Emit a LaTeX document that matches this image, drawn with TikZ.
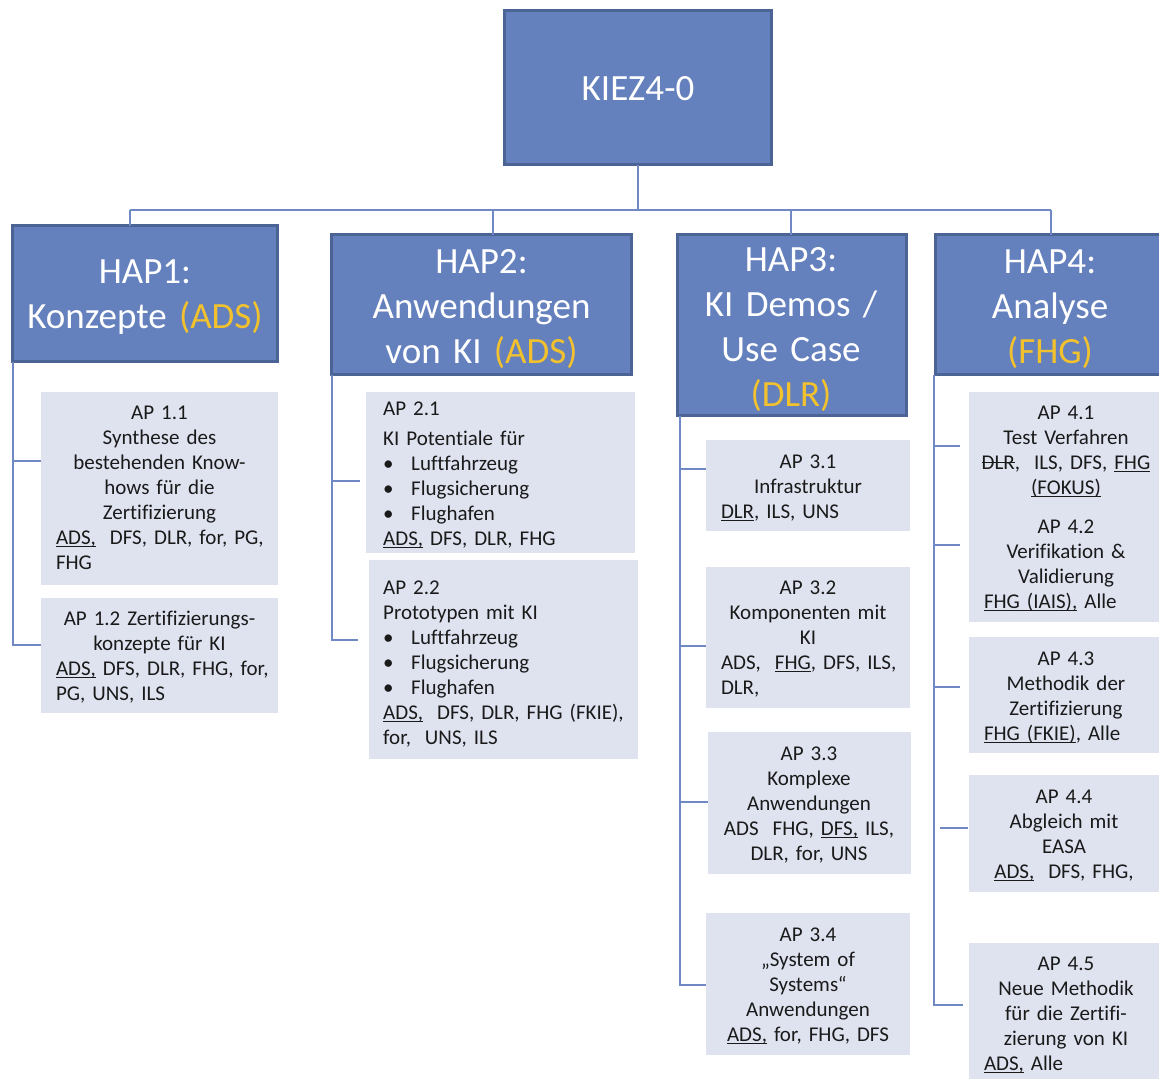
\documentclass[tikz,border=0pt]{standalone}
\usepackage{fontspec}
\setmainfont{Carlito}[Ligatures={TeX,NoCommon}]
\definecolor{hapfill}{HTML}{6480BD}
\definecolor{hapborder}{HTML}{4B6395}
\definecolor{apfill}{HTML}{DFE3F0}
\definecolor{connc}{HTML}{7089C4}
\definecolor{hapyellow}{HTML}{F2C12E}
\definecolor{aptextc}{HTML}{1A1A1A}
\newsavebox\ulbox
\newcommand\ulx[1]{\leavevmode\sbox\ulbox{#1}\rlap{\rule[-3pt]{\wd\ulbox}{1.2pt}}\usebox{\ulbox}}
\newcommand\stx[1]{\leavevmode\sbox\ulbox{#1}\rlap{\rule[6pt]{\wd\ulbox}{1.2pt}}\usebox{\ulbox}}
\newcommand\bul[1]{\leavevmode\makebox[28pt][l]{\textbullet}#1}
\newcommand\lline[1]{\leavevmode\makebox[\linewidth][l]{#1}}
\tikzset{
  hapbox/.style={draw=hapborder, line width=3pt, fill=hapfill, anchor=north west, inner sep=0pt, outer sep=0pt},
  haptext/.style={text=white, font=\fontsize{37}{45}\selectfont, align=center, text width=300pt, anchor=base, inner sep=0pt},
  apbox/.style={fill=apfill, anchor=north west, inner sep=0pt, outer sep=0pt},
  aptext/.style={text=aptextc, font=\fontsize{21}{25}\selectfont, align=center, text width=200pt, anchor=base, inner sep=0pt},
  apleft/.style={aptext, align=left, anchor=base west},
  conn/.style={draw=connc, line width=2pt}
}
\begin{document}
\begin{tikzpicture}[x=1pt,y=-1pt]
\path[use as bounding box] (0,0) rectangle (1159,1079);

% top box
\node[hapbox, minimum width=267pt, minimum height=154pt] (kiez) at (504.5,10.5) {};
\node[haptext] (kiezt) at (638,100) {KIEZ4-0};

% HAP boxes
\node[hapbox, minimum width=265pt, minimum height=136pt] (hap1) at (12.5,225.5) {};
\node[hapbox, minimum width=300pt, minimum height=140pt] (hap2) at (331.5,234.5) {};
\node[hapbox, minimum width=229pt, minimum height=181pt] (hap3) at (677.5,234.5) {};
\node[hapbox, minimum width=226pt, minimum height=140pt] (hap4) at (935.5,234.5) {};

\node[haptext] (hap1t) at (145,283) {HAP1:\\Konzepte \textcolor{hapyellow}{(ADS)}};
\node[haptext] (hap2t) at (481.5,273) {HAP2:\\Anwendungen\\von KI \textcolor{hapyellow}{(ADS)}};
\node[haptext] (hap3t) at (791,271) {HAP3:\\KI Demos /\\Use Case\\\textcolor{hapyellow}{(DLR)}};
\node[haptext] (hap4t) at (1050,273) {HAP4:\\Analyse\\\textcolor{hapyellow}{(FHG)}};

% AP boxes
\node[apbox, minimum width=237pt, minimum height=193pt] (ap11) at (41,392) {};
\node[apbox, minimum width=237pt, minimum height=115pt] (ap12) at (41,598) {};
\node[apbox, minimum width=269pt, minimum height=161pt] (ap21) at (366,392) {};
\node[apbox, minimum width=269pt, minimum height=199pt] (ap22) at (369,560) {};
\node[apbox, minimum width=204pt, minimum height=91pt] (ap31) at (706,440) {};
\node[apbox, minimum width=204pt, minimum height=141pt] (ap32) at (706,567) {};
\node[apbox, minimum width=203pt, minimum height=142pt] (ap33) at (708,732) {};
\node[apbox, minimum width=204pt, minimum height=142pt] (ap34) at (706,913) {};
\node[apbox, minimum width=190pt, minimum height=114pt] (ap41) at (969,392) {};
\node[apbox, minimum width=190pt, minimum height=116pt] (ap42) at (969,506) {};
\node[apbox, minimum width=190pt, minimum height=116pt] (ap43) at (969,637) {};
\node[apbox, minimum width=190pt, minimum height=117pt] (ap44) at (969,775) {};
\node[apbox, minimum width=190pt, minimum height=136pt] (ap45) at (969,943) {};

% AP texts
\node[aptext, text width=207pt] (ap11t) at (159.5,419) {AP 1.1\\Synthese des\\bestehenden Know-\\hows für die\\Zertifizierung\\\lline{\ulx{ADS,}~ DFS, DLR, for, PG,}\\\lline{FHG}};
\node[aptext, text width=207pt] (ap12t) at (159.5,625) {AP 1.2 Zertifizierungs-\\konzepte für KI\\\lline{\ulx{ADS,} DFS, DLR, FHG, for,}\\\lline{PG, UNS, ILS}};
\node[apleft, text width=245pt] (ap21t) at (383,415) {AP 2.1\\[5pt]KI Potentiale für\\\bul{Luftfahrzeug}\\\bul{Flugsicherung}\\\bul{Flughafen}\\\ulx{ADS,} DFS, DLR, FHG};
\node[apleft, text width=245pt] (ap22t) at (383,594) {AP 2.2\\Prototypen mit KI\\\bul{Luftfahrzeug}\\\bul{Flugsicherung}\\\bul{Flughafen}\\\ulx{ADS,}~ DFS, DLR, FHG (FKIE),\\for,~ UNS, ILS};
\node[aptext, text width=174pt] (ap31t) at (808,468) {AP 3.1\\Infrastruktur\\\lline{\ulx{DLR}, ILS, UNS}};
\node[aptext, text width=174pt] (ap32t) at (808,594) {AP 3.2\\Komponenten mit\\KI\\\lline{ADS,~ \ulx{FHG}, DFS, ILS,}\\\lline{DLR,}};
\node[aptext] (ap33t) at (809,760) {AP 3.3\\Komplexe\\Anwendungen\\ADS~ FHG, \ulx{DFS,} ILS,\\DLR, for, UNS};
\node[aptext] (ap34t) at (808,941) {AP 3.4\\„System of\\Systems“\\Anwendungen\\\ulx{ADS,} for, FHG, DFS};
\node[aptext] (ap41t) at (1066,419) {AP 4.1\\Test Verfahren\\\stx{DLR},~ ILS, DFS, \ulx{FHG}\\\ulx{(FOKUS)}};
\node[aptext, text width=164pt] (ap42t) at (1066,533) {AP 4.2\\Verifikation \&\\Validierung\\\lline{\ulx{FHG (IAIS),} Alle}};
\node[aptext, text width=164pt] (ap43t) at (1066,665) {AP 4.3\\Methodik der\\Zertifizierung\\\lline{\ulx{FHG (FKIE)}, Alle}};
\node[aptext] (ap44t) at (1064,803) {AP 4.4\\Abgleich mit\\EASA\\\ulx{ADS,}~ DFS, FHG,};
\node[aptext, text width=164pt] (ap45t) at (1066,970) {AP 4.5\\Neue Methodik\\für die Zertifi-\\zierung von KI\\\lline{\ulx{ADS,} Alle}};

% top connectors
\coordinate (j1) at (130,210);
\coordinate (j2) at (493,210);
\coordinate (j3) at (791,210);
\coordinate (j4) at (1051,210);
\draw[conn] (kiez.south) -- (kiez.south |- j1);
\draw[conn] (j1) -- (j4);
\draw[conn] (j1) -- (j1 |- hap1.north);
\draw[conn] (j2) -- (j2 |- hap2.north);
\draw[conn] (j3) -- (j3 |- hap3.north);
\draw[conn] (j4) -- (j4 |- hap4.north);

% HAP1 spine
\coordinate (s1) at ([xshift=0.5pt]hap1.south west);
\draw[conn] (s1) |- (ap12.west |- 0,645);
\draw[conn] (s1 |- 0,461) -- (ap11.west |- 0,461);

% HAP2 spine
\coordinate (s2) at (hap2.south west);
\draw[conn] (s2) |- ([xshift=-11pt]ap22.west |- 0,640);
\draw[conn] (s2 |- 0,481) -- ([xshift=-6pt]ap21.west |- 0,481);

% HAP3 spine
\coordinate (s3) at ([xshift=2.5pt]hap3.south west);
\draw[conn] (s3) |- (ap34.west |- 0,985);
\draw[conn] (s3 |- 0,469) -- (ap31.west |- 0,469);
\draw[conn] (s3 |- 0,646) -- (ap32.west |- 0,646);
\draw[conn] (s3 |- 0,802) -- (ap33.west |- 0,802);

% HAP4 spine
\coordinate (s4) at ([xshift=-1.5pt]hap4.south west);
\draw[conn] (s4) |- ([xshift=-6pt]ap45.west |- 0,1005);
\draw[conn] (s4 |- 0,446) -- ([xshift=-9pt]ap41.west |- 0,446);
\draw[conn] (s4 |- 0,545) -- ([xshift=-9pt]ap42.west |- 0,545);
\draw[conn] (s4 |- 0,687) -- ([xshift=-9pt]ap43.west |- 0,687);
\draw[conn] ([xshift=6pt]s4 |- 0,828) -- ([xshift=-1pt]ap44.west |- 0,828);
\end{tikzpicture}
\end{document}
